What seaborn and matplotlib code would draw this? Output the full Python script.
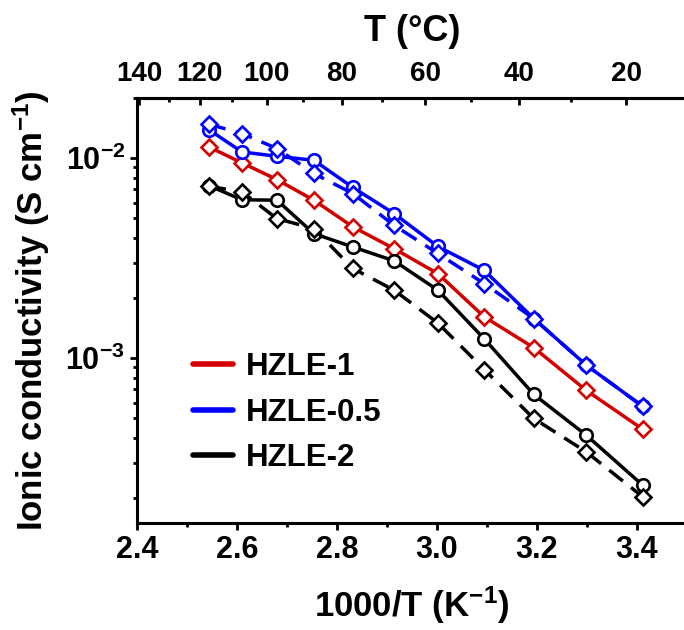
import numpy as np
import pandas as pd
import matplotlib
matplotlib.use("Agg")
import matplotlib.pyplot as plt
from matplotlib.lines import Line2D
from matplotlib.ticker import FixedLocator, LogLocator, NullFormatter, MultipleLocator
import seaborn as sns

# ---------------- data ----------------
temps_c = [120, 110, 100, 90, 80, 70, 60, 50, 40, 30, 20]
inv_t = [1000.0 / (t + 273.15) for t in temps_c]

hzle1_diamond = [0.01139, 0.00948, 0.00782, 0.00617, 0.00454, 0.00353, 0.00265,
                 0.00161, 0.00113, 0.00069, 0.000442]
hzle05_circle = [0.0139, 0.01075, 0.01023, 0.00977, 0.00714, 0.00529, 0.00362,
                 0.00275, 0.00158, 0.000923, 0.000575]
hzle05_diamond = [0.01479, 0.01329, 0.01118, 0.00839, 0.00666, 0.00462, 0.00334,
                  0.00236, 0.00158, 0.000923, 0.000575]
hzle2_circle = [0.0073, 0.0062, 0.00617, 0.0042, 0.0036, 0.00307, 0.00219,
                0.00125, 0.00066, 0.000412, 0.000232]
hzle2_diamond = [0.00724, 0.00679, 0.00499, 0.00445, 0.00281, 0.00219, 0.0015,
                 0.000878, 0.0005, 0.00034, 0.000203]

legend_labels = ["HZLE-1", "HZLE-0.5", "HZLE-2"]
top_ticks = [140, 120, 100, 80, 60, 40, 20]
top_minor = [130, 110, 90, 70, 50, 30]

# ---------------- style ----------------
sns.set_theme(style="ticks")
plt.rcParams["font.family"] = ["Liberation Sans", "DejaVu Sans"]
plt.rcParams["font.weight"] = "bold"
plt.rcParams["mathtext.fontset"] = "custom"
plt.rcParams["mathtext.rm"] = "Liberation Sans:bold"
plt.rcParams["mathtext.bf"] = "Liberation Sans:bold"
plt.rcParams["mathtext.it"] = "Liberation Sans:bold"
plt.rcParams["mathtext.default"] = "bf"
plt.rcParams["axes.linewidth"] = 2.2
for k in ["text.color", "axes.labelcolor", "xtick.color", "ytick.color",
          "axes.edgecolor"]:
    plt.rcParams[k] = "black"

RED = "#D40000"
BLUE = "#0000FF"
BLACK = "#000000"

fig = plt.figure(figsize=(6.84, 6.3), dpi=100)
ax = fig.add_axes([0.2003, 0.1698, 0.8041, 0.6746])

series = [
    (hzle1_diamond, RED, "D", "-"),
    (hzle05_circle, BLUE, "o", "-"),
    (hzle05_diamond, BLUE, "D", (0, (5, 3))),
    (hzle2_circle, BLACK, "o", "-"),
    (hzle2_diamond, BLACK, "D", (0, (5, 3))),
]
for vals, col, mk, ls in series:
    df = pd.DataFrame({"x": inv_t, "y": vals})
    ms = 8.5 if mk == "D" else 9
    sns.lineplot(data=df, x="x", y="y", ax=ax, color=col, marker=mk,
                 markersize=ms, markerfacecolor="white", markeredgecolor=col,
                 markeredgewidth=1.9, linewidth=2.5, linestyle=ls, sort=False,
                 legend=False)

ax.set_yscale("log")
ax.set_xlim(2.4, 3.5)
ax.set_ylim(1.5e-4, 2e-2)

ax.xaxis.set_major_locator(FixedLocator([2.4, 2.6, 2.8, 3.0, 3.2, 3.4]))
ax.xaxis.set_minor_locator(MultipleLocator(0.1))
ax.yaxis.set_major_locator(LogLocator(base=10, numticks=10))
ax.yaxis.set_minor_locator(LogLocator(base=10, subs=np.arange(2, 10), numticks=20))
ax.yaxis.set_minor_formatter(NullFormatter())

ax.tick_params(axis="both", which="major", direction="out", length=5, width=2,
               top=False, right=False)
ax.tick_params(axis="y", which="major", labelsize=22)
ax.tick_params(axis="both", which="minor", direction="out", length=3, width=2,
               top=False, right=False)
ax.set_xticklabels(["2.4", "2.6", "2.8", "3.0", "3.2", "3.4"], fontsize=22,
                   fontweight="bold")
for lab in ax.get_yticklabels():
    lab.set_fontweight("bold")

ax.set_xlabel(r"1000/T (K$^{-1}$)", fontsize=25, fontweight="bold", labelpad=14)
ax.set_ylabel(r"Ionic conductivity (S cm$^{-1}$)", fontsize=25,
              fontweight="bold")
ax.yaxis.set_label_coords(-0.155, 0.5)


def fwd(x):
    x = np.asarray(x, dtype=float)
    with np.errstate(divide="ignore", invalid="ignore"):
        return 1000.0 / x - 276.0


def inv(t):
    t = np.asarray(t, dtype=float)
    with np.errstate(divide="ignore", invalid="ignore"):
        return 1000.0 / (t + 276.0)


secax = ax.secondary_xaxis("top", functions=(fwd, inv))
secax.xaxis.set_major_locator(FixedLocator(top_ticks))
secax.xaxis.set_minor_locator(FixedLocator(top_minor))
secax.set_xticklabels([str(t) for t in top_ticks], fontsize=20, fontweight="bold")
secax.tick_params(axis="x", which="major", direction="in", length=5, width=2, pad=8)
secax.tick_params(axis="x", which="minor", direction="in", length=3, width=2)
secax.set_xlabel("T (°C)", fontsize=26, fontweight="bold", labelpad=14)
secax.spines["top"].set_linewidth(2.2)

handles = [Line2D([0], [0], color=c, lw=4) for c in (RED, BLUE, BLACK)]
leg = ax.legend(handles, legend_labels, loc="lower left",
                bbox_to_anchor=(0.05, 0.051), frameon=False, handlelength=1.3,
                handletextpad=0.4, labelspacing=0.5,
                prop={"size": 22.5, "weight": "bold"})

fig.savefig("out.png", dpi=100)
